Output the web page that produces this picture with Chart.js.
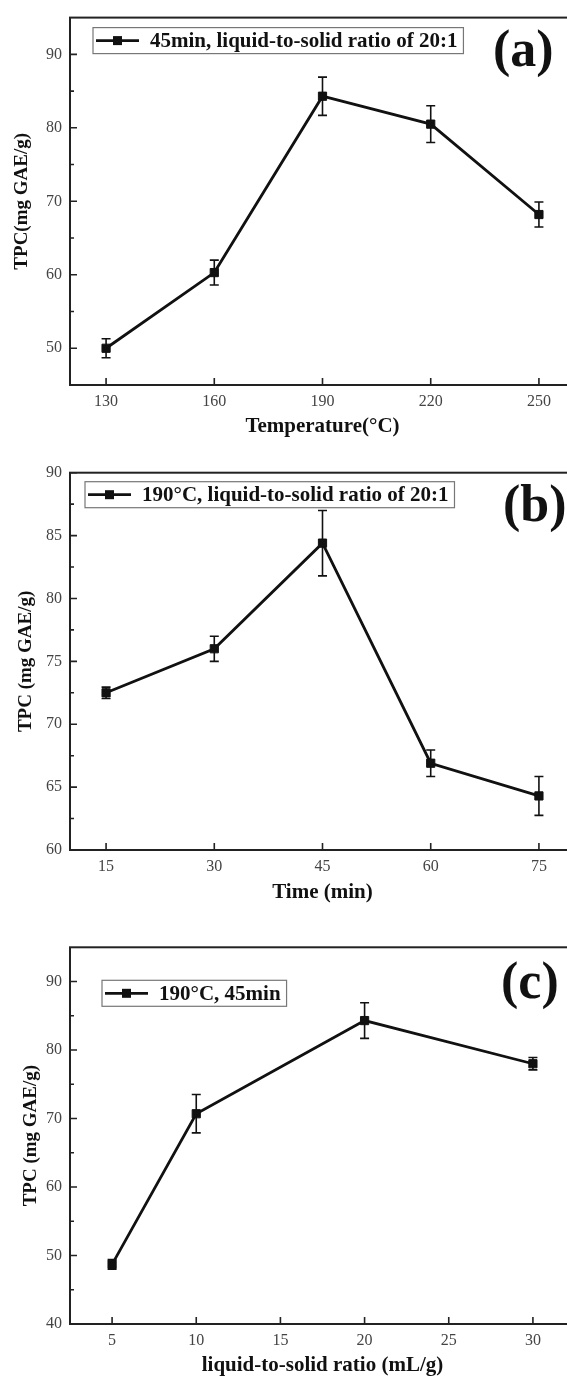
<!DOCTYPE html>
<html>
<head>
<meta charset="utf-8">
<script src="https://cdn.jsdelivr.net/npm/chart.js@4.4.1/dist/chart.umd.min.js"></script>
<style>
  html, body { margin: 0; padding: 0; background: #fff; }
  body { width: 567px; height: 1376px; overflow: hidden; position: relative; }
  .panel { position: absolute; left: 0; }
</style>
</head>
<body>
<div class="panel" style="top:0px"><canvas id="chartA" width="585" height="445"></canvas></div>
<div class="panel" style="top:450px"><canvas id="chartB" width="585" height="470"></canvas></div>
<div class="panel" style="top:920px"><canvas id="chartC" width="585" height="470"></canvas></div>
<script>
// (a) temperature series
const tempX = [130, 160, 190, 220, 250];
const tempY = [50.0, 60.3, 84.3, 80.5, 68.2];
const tempErr = [1.3, 1.7, 2.6, 2.5, 1.7];
const tempTicks = [130, 160, 190, 220, 250];
const tpcTicksA = [50, 60, 70, 80, 90];

// (b) time series
const timeX = [15, 30, 45, 60, 75];
const timeY = [72.5, 76.0, 84.4, 66.9, 64.3];
const timeErr = [0.45, 1.0, 2.6, 1.05, 1.55];
const timeTicks = [15, 30, 45, 60, 75];
const tpcTicksB = [60, 65, 70, 75, 80, 85, 90];

// (c) liquid-to-solid ratio series
const ratioX = [5, 10, 20, 30];
const ratioY = [48.7, 70.7, 84.3, 78.0];
const ratioErr = [0.7, 2.8, 2.6, 0.9];
const ratioTicks = [5, 10, 15, 20, 25, 30];
const tpcTicksC = [40, 50, 60, 70, 80, 90];

const SERIF = '"Liberation Serif", "Times New Roman", serif';

// frame round the plot + inward tick marks (major and minor)
const frameTicks = {
  id: 'frameTicks',
  afterDraw(chart, args, opts) {
    const { ctx, chartArea: a, scales: { x, y } } = chart;
    ctx.save();
    ctx.strokeStyle = '#222';
    ctx.lineWidth = 2;
    ctx.strokeRect(a.left, a.top, a.right - a.left, a.bottom - a.top);
    ctx.lineWidth = 1.6;
    ctx.beginPath();
    x.ticks.forEach(t => {
      const px = x.getPixelForValue(t.value);
      ctx.moveTo(px, a.bottom); ctx.lineTo(px, a.bottom - 7);
    });
    const major = y.ticks.map(t => t.value);
    major.forEach(v => {
      const py = y.getPixelForValue(v);
      ctx.moveTo(a.left, py); ctx.lineTo(a.left + 7, py);
    });
    const step = opts.yMinorStep;
    if (step) {
      for (let v = Math.ceil(y.min / step) * step; v < y.max; v += step) {
        if (v <= y.min || major.some(m => Math.abs(m - v) < 1e-6)) continue;
        const py = y.getPixelForValue(v);
        ctx.moveTo(a.left, py); ctx.lineTo(a.left + 4, py);
      }
    }
    ctx.stroke();
    ctx.restore();
  }
};

// vertical error bars with caps, under the markers
const errorBars = {
  id: 'errorBars',
  beforeDatasetsDraw(chart) {
    const { ctx, scales: { y } } = chart;
    ctx.save();
    ctx.strokeStyle = '#111';
    ctx.lineWidth = 1.6;
    chart.data.datasets.forEach((ds, i) => {
      if (!ds.errors) return;
      const meta = chart.getDatasetMeta(i);
      meta.data.forEach((pt, j) => {
        const v = ds.data[j].y, e = ds.errors[j];
        const top = y.getPixelForValue(v + e);
        const bot = y.getPixelForValue(v - e);
        ctx.beginPath();
        ctx.moveTo(pt.x, top); ctx.lineTo(pt.x, bot);
        ctx.moveTo(pt.x - 4.5, top); ctx.lineTo(pt.x + 4.5, top);
        ctx.moveTo(pt.x - 4.5, bot); ctx.lineTo(pt.x + 4.5, bot);
        ctx.stroke();
      });
    });
    ctx.restore();
  }
};

// boxed legend inside the plot and the panel tag "(a)" etc.
const boxLegend = {
  id: 'boxLegend',
  afterDraw(chart, args, opts) {
    const { ctx, chartArea: a } = chart;
    const ds = chart.data.datasets[0];
    ctx.save();
    ctx.font = `bold 21px ${SERIF}`;
    const tw = ctx.measureText(ds.label).width;
    const bx = a.left + opts.dx, by = a.top + opts.dy, bh = 26;
    const bw = 3 + 43 + 11 + tw + 6;
    ctx.fillStyle = '#fff';
    ctx.fillRect(bx, by, bw, bh);
    ctx.strokeStyle = '#777';
    ctx.lineWidth = 1.2;
    ctx.strokeRect(bx, by, bw, bh);
    const cy = by + bh / 2;
    ctx.strokeStyle = '#111';
    ctx.lineWidth = 2.8;
    ctx.beginPath();
    ctx.moveTo(bx + 3, cy); ctx.lineTo(bx + 46, cy);
    ctx.stroke();
    ctx.fillStyle = '#111';
    ctx.fillRect(bx + 24.5 - 4.5, cy - 4.5, 9, 9);
    ctx.textBaseline = 'middle';
    ctx.textAlign = 'left';
    ctx.fillText(ds.label, bx + 57, cy + 1);

    ctx.font = `bold 52px ${SERIF}`;
    ctx.textBaseline = 'alphabetic';
    ctx.fillText(opts.tag, opts.tagX, a.top + opts.tagDy);
    ctx.restore();
  }
};

function makePanel(id, p) {
  const ctx = document.getElementById(id).getContext('2d');
  return new Chart(ctx, {
    type: 'line',
    data: {
      datasets: [{
        label: p.label,
        data: p.xs.map((x, i) => ({ x: x, y: p.ys[i] })),
        errors: p.errs,
        borderColor: '#111',
        borderWidth: 2.8,
        tension: 0,
        pointStyle: 'rect',
        pointRadius: 5.8,
        pointBackgroundColor: '#111',
        pointBorderColor: '#111',
        pointBorderWidth: 1
      }]
    },
    options: {
      responsive: false,
      animation: false,
      devicePixelRatio: 1,
      layout: { padding: { left: 0, top: p.padTop, right: 10, bottom: p.padBottom } },
      plugins: {
        legend: { display: false },
        tooltip: { enabled: false },
        frameTicks: { yMinorStep: p.yMinorStep },
        boxLegend: { dx: p.legDx, dy: p.legDy, tag: p.tag, tagX: p.tagX, tagDy: p.tagDy }
      },
      scales: {
        x: {
          type: 'linear',
          min: p.xMin, max: p.xMax,
          afterBuildTicks: s => { s.ticks = p.xTicks.map(v => ({ value: v })); },
          afterFit: s => { s.height = p.xHeight; },
          grid: { display: false, drawTicks: false },
          border: { display: false },
          ticks: { padding: 7, color: '#444', font: { family: SERIF, size: 16 } },
          title: { display: true, text: p.xTitle, color: '#111', padding: { top: 0, bottom: 0 },
                   font: { family: SERIF, size: 21, weight: 'bold' } }
        },
        y: {
          min: p.yMin, max: p.yMax,
          afterBuildTicks: s => { s.ticks = p.yTicks.map(v => ({ value: v })); },
          afterFit: s => { s.width = 70; },
          grid: { display: false, drawTicks: false },
          border: { display: false },
          ticks: { padding: 8, color: '#444', font: { family: SERIF, size: 16 } },
          title: { display: true, text: p.yTitle, color: '#111', padding: { top: p.yTitlePad, bottom: 0 },
                   font: { family: SERIF, size: 19, weight: 'bold' } }
        }
      }
    },
    plugins: [frameTicks, errorBars, boxLegend]
  });
}

makePanel('chartA', {
  label: '45min, liquid-to-solid ratio of 20:1',
  xs: tempX, ys: tempY, errs: tempErr,
  xTicks: tempTicks, yTicks: tpcTicksA,
  xMin: 120, xMax: 260, yMin: 45, yMax: 95, yMinorStep: 5,
  xTitle: 'Temperature(\u00B0C)', yTitle: 'TPC(mg GAE/g)',
  padTop: 10, padBottom: 5.4, xHeight: 54.6, yTitlePad: 10.5,
  legDx: 23, legDy: 10, tag: '(a)', tagX: 493, tagDy: 48
});

makePanel('chartB', {
  label: '190\u00B0C, liquid-to-solid ratio of 20:1',
  xs: timeX, ys: timeY, errs: timeErr,
  xTicks: timeTicks, yTicks: tpcTicksB,
  xMin: 10, xMax: 80, yMin: 60, yMax: 90, yMinorStep: 2.5,
  xTitle: 'Time (min)', yTitle: 'TPC (mg GAE/g)',
  padTop: 22.7, padBottom: 14.4, xHeight: 55.6, yTitlePad: 14.5,
  legDx: 15, legDy: 9, tag: '(b)', tagX: 503, tagDy: 48.3
});

makePanel('chartC', {
  label: '190\u00B0C, 45min',
  xs: ratioX, ys: ratioY, errs: ratioErr,
  xTicks: ratioTicks, yTicks: tpcTicksC,
  xMin: 2.5, xMax: 32.5, yMin: 40, yMax: 95, yMinorStep: 5,
  xTitle: 'liquid-to-solid ratio (mL/g)', yTitle: 'TPC (mg GAE/g)',
  padTop: 27.3, padBottom: 11.4, xHeight: 54.6, yTitlePad: 19.5,
  legDx: 32, legDy: 33, tag: '(c)', tagX: 501, tagDy: 50.7
});
</script>
</body>
</html>
